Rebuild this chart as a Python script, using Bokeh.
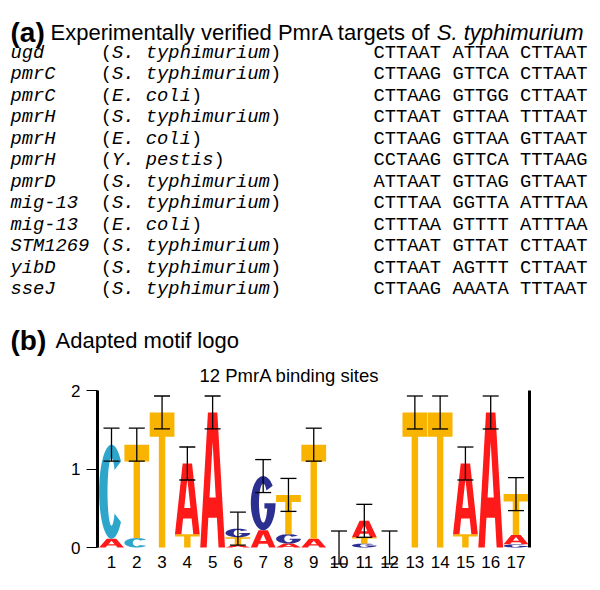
import numpy as np
from bokeh.plotting import figure
from bokeh.models import Range1d, ColumnDataSource, LinearAxis, FixedTicker, Whisker, TeeHead
from bokeh.core.properties import value
from bokeh.embed import file_html
from bokeh.resources import INLINE

# ---------------- data: panel (a) ----------------
genes = ["ugd", "pmrC", "pmrC", "pmrH", "pmrH", "pmrH", "pmrD",
         "mig-13", "mig-13", "STM1269", "yibD", "sseJ"]
species = ["S. typhimurium", "S. typhimurium", "E. coli", "S. typhimurium",
           "E. coli", "Y. pestis", "S. typhimurium", "S. typhimurium",
           "E. coli", "S. typhimurium", "S. typhimurium", "S. typhimurium"]
sites = ["CTTAAT ATTAA CTTAAT", "CTTAAG GTTCA CTTAAT", "CTTAAG GTTGG CTTAAT",
         "CTTAAT GTTAA TTTAAT", "CTTAAG GTTAA GTTAAT", "CCTAAG GTTCA TTTAAG",
         "ATTAAT GTTAG GTTAAT", "CTTTAA GGTTA ATTTAA", "CTTTAA GTTTT ATTTAA",
         "CTTAAT GTTAT CTTAAT", "CTTAAT AGTTT CTTAAT", "CTTAAG AAATA TTTAAT"]

# ---------------- data: panel (b) logo (bits) ----------------
positions = list(range(1, 18))
height_A = [0.11, 0, 0, 0.90, 1.72, 0.03, 0.22, 0.05, 0.11, 0, 0.21, 0, 0, 0, 0.90, 1.72, 0.12]
height_C = [1.20, 0.12, 0, 0, 0, 0, 0, 0, 0, 0, 0, 0, 0, 0, 0, 0, 0]
height_G = [0, 0, 0, 0, 0, 0.11, 0.69, 0.12, 0, 0, 0.05, 0, 0, 0, 0, 0, 0.04]
height_T = [0, 1.19, 1.72, 0.17, 0, 0.10, 0, 0.50, 1.20, 0, 0.08, 0, 1.72, 1.72, 0.17, 0, 0.52]
error = [0.21] * 17
y_ticks = [0, 1, 2]

letter_colors = {"A": "#ff1a1a", "C": "#2ea6cc", "G": "#2b2f8f", "T": "#f8b400"}

# ---------------- letter outline templates (unit box) ----------------
def arc(cx, cy, rx, ry, a0, a1, n=48):
    t = np.radians(np.linspace(a0, a1, n))
    return list(cx + rx * np.cos(t)), list(cy + ry * np.sin(t))

def tmpl_A():
    outer = [(0, 0), (0.26, 0), (0.328, 0.22), (0.672, 0.22), (0.74, 0), (1, 0), (0.69, 1), (0.31, 1)]
    hole = [(0.375, 0.37), (0.625, 0.37), (0.5, 0.78)]
    return [outer, hole]

def tmpl_C():
    ox, oy = arc(0.5, 0.5, 0.5, 0.5, 40, 320)
    ix, iy = arc(0.5, 0.5, 0.16, 0.36, 320, 40)
    return [list(zip(ox + ix, oy + iy))]

def tmpl_G():
    ox, oy = arc(0.5, 0.5, 0.5, 0.5, 40, 360)
    th = np.degrees(np.arcsin((0.40 - 0.5) / 0.36))
    ix, iy = arc(0.5, 0.5, 0.17, 0.36, 360 + th, 40)
    pts = list(zip(ox, oy)) + [(0.55, 0.5), (0.55, 0.40)] + list(zip(ix, iy))
    return [pts]

def tmpl_T():
    return [[(0, 1), (1, 1), (1, 0.82), (0.63, 0.82), (0.63, 0), (0.37, 0), (0.37, 0.82), (0, 0.82)]]

templates = {"A": tmpl_A(), "C": tmpl_C(), "G": tmpl_G(), "T": tmpl_T()}

LW = 0.98
xs, ys, cols = [], [], []
tops = []
for i, pos in enumerate(positions):
    stack = [(h, L) for L, h in (("A", height_A[i]), ("C", height_C[i]),
                                  ("G", height_G[i]), ("T", height_T[i])) if h > 0]
    stack.sort()
    base = 0.0
    for h, L in stack:
        rings_x, rings_y = [], []
        for ring in templates[L]:
            rings_x.append([pos - LW / 2 + u * LW for u, v in ring])
            rings_y.append([base + v * h for u, v in ring])
        xs.append([rings_x])
        ys.append([rings_y])
        cols.append(letter_colors[L])
        base += h
    tops.append(base)

# ---------------- layout (page pixels) ----------------
W, H = 600, 590
X1_PX, DX_PX = 111.0, 25.28      # page x of position 1, px per position
Y0_PX, DY_PX = 547.0, 78.5       # page y of 0 bits, px per bit
AX_L_PX, AX_R_PX = 97.0, 529.0   # left / right axis lines

def px_to_pos(px):
    return 1 + (px - X1_PX) / DX_PX

def py_to_bits(py):
    return (Y0_PX - py) / DY_PX

p = figure(width=W, height=H,
           x_range=Range1d(px_to_pos(0), px_to_pos(W)),
           y_range=Range1d(py_to_bits(H), py_to_bits(0)),
           output_backend="svg", toolbar_location=None,
           x_axis_type=None, y_axis_type=None, min_border=0)
p.extra_x_ranges = {"px": Range1d(0, W)}
p.extra_y_ranges = {"py": Range1d(H, 0)}
p.outline_line_color = None
p.grid.visible = False

SANS = value("Liberation Sans")
MONO = value("Liberation Mono")
page = dict(x_range_name="px", y_range_name="py")

# ---- panel (a) ----
p.text(x=[10], y=[32], text=["(a)"], text_font=SANS, text_font_style="bold",
       text_font_size="28px", text_baseline="alphabetic", text_color="black", **page)
head = "Experimentally verified PmrA targets of "
p.text(x=[50], y=[32], text=[head], text_font=SANS, text_font_size="22px",
       text_baseline="alphabetic", text_color="black", **page)
p.text(x=[50 + 17.561 * 22], y=[32], text=["S. typhimurium"], text_font=SANS,
       text_font_style="italic", text_font_size="22px", text_baseline="alphabetic",
       text_color="black", **page)

mono_px = 18.8
cw = 0.6 * mono_px
row0, rowstep = 52, 21.5
n = len(genes)
gene_x, seq_x = 10, 373
rows = ColumnDataSource(dict(
    y=[row0 + k * rowstep for k in range(n)], gene=genes, species=species, site=sites,
    gx=[gene_x] * n,
    ox=[gene_x + 8 * cw] * n,
    sx=[gene_x + 9 * cw] * n,
    cx=[gene_x + (9 + len(s)) * cw for s in species],
    qx=[seq_x] * n,
    op=["("] * n, cp=[")"] * n))
common = dict(text_font=MONO, text_font_size=f"{mono_px}px", text_baseline="middle",
              text_color="black", source=rows, **page)
p.text(x="gx", y="y", text="gene", text_font_style="italic", **common)
p.text(x="ox", y="y", text="op", **common)
p.text(x="sx", y="y", text="species", text_font_style="italic", **common)
p.text(x="cx", y="y", text="cp", **common)
p.text(x="qx", y="y", text="site", **common)

# ---- panel (b) headings ----
p.text(x=[10], y=[340], text=["(b)"], text_font=SANS, text_font_style="bold",
       text_font_size="28px", text_baseline="alphabetic", text_color="black", **page)
p.text(x=[55], y=[340], text=["Adapted motif logo"], text_font=SANS, text_font_size="22px",
       text_baseline="alphabetic", text_color="black", **page)
p.text(x=[199], y=[375], text=["12 PmrA binding sites"], text_font=SANS,
       text_font_size="18.5px", text_baseline="middle", text_color="black", **page)

# ---- logo ----
src = ColumnDataSource(dict(xs=xs, ys=ys, color=cols))
p.multi_polygons(xs="xs", ys="ys", fill_color="color", line_color=None, source=src)

err_src = ColumnDataSource(dict(base=positions,
                                lower=[t - e for t, e in zip(tops, error)],
                                upper=[t + e for t, e in zip(tops, error)]))
wk = Whisker(base="base", lower="lower", upper="upper", source=err_src,
             line_color="black", line_width=1.3, level="overlay",
             upper_head=TeeHead(size=16, line_color="black", line_width=1.3),
             lower_head=TeeHead(size=16, line_color="black", line_width=1.3))
p.add_layout(wk)

xaxis = LinearAxis(ticker=FixedTicker(ticks=positions), fixed_location=0,
                   axis_line_color=None, major_tick_line_color=None, minor_tick_line_color=None,
                   major_label_text_font="Liberation Sans", major_label_text_font_size="17px",
                   major_label_text_color="black", major_label_standoff=2)
p.add_layout(xaxis, "below")

yaxis = LinearAxis(ticker=FixedTicker(ticks=y_ticks), bounds=(0, 2),
                   fixed_location=px_to_pos(AX_L_PX), axis_line_width=3,
                   axis_line_color="black", major_tick_out=11, major_tick_in=0,
                   major_tick_line_width=1.2, major_tick_line_color="black",
                   minor_tick_line_color=None, major_label_standoff=6,
                   major_label_text_font="Liberation Sans", major_label_text_font_size="17px",
                   major_label_text_color="black")
p.add_layout(yaxis, "left")

raxis = LinearAxis(ticker=FixedTicker(ticks=[]), bounds=(0, 2),
                   fixed_location=px_to_pos(AX_R_PX), axis_line_width=3,
                   axis_line_color="black", major_tick_line_color=None,
                   minor_tick_line_color=None, major_label_text_font_size="0px")
p.add_layout(raxis, "right")

open("out.html", "w").write(file_html(p, INLINE))
